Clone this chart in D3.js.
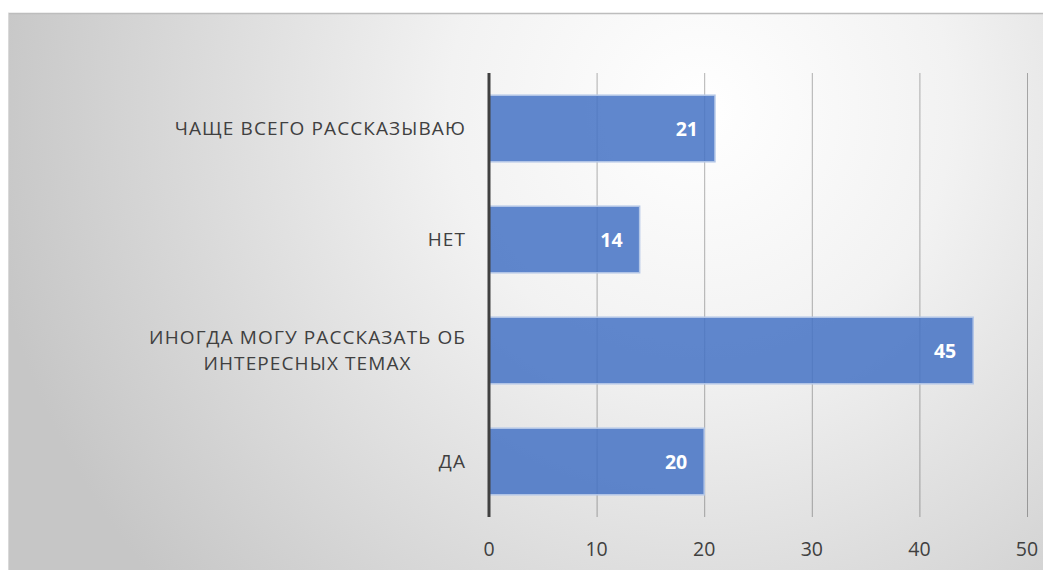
<!DOCTYPE html>
<html>
<head>
<meta charset="utf-8">
<script src="https://cdn.jsdelivr.net/npm/d3@7"></script>
<style>
  body { margin: 0; background: #fff; }
  svg text { font-family: "Open Sans", "Noto Sans", sans-serif; }
</style>
</head>
<body>
<svg id="chart" width="1043" height="570"></svg>
<script>
// categories from top to bottom, as in the picture
const categories = [
  ['ЧАЩЕ ВСЕГО РАССКАЗЫВАЮ'],
  ['НЕТ'],
  ['ИНОГДА МОГУ РАССКАЗАТЬ ОБ', 'ИНТЕРЕСНЫХ ТЕМАХ'],
  ['ДА']
]
const values = [21, 14, 45, 20]
const xTicks = [0, 10, 20, 30, 40, 50]

const svg = d3.select('#chart')

// background with soft radial gradient
const defs = svg.append('defs')
const grad = defs.append('radialGradient')
  .attr('id', 'bg')
  .attr('gradientUnits', 'userSpaceOnUse')
  .attr('cx', 700).attr('cy', 110).attr('r', 720)
grad.append('stop').attr('offset', '0%').attr('stop-color', '#ffffff')
grad.append('stop').attr('offset', '35%').attr('stop-color', '#f2f2f2')
grad.append('stop').attr('offset', '100%').attr('stop-color', '#c6c6c6')

svg.append('rect')
  .attr('x', 8).attr('y', 13)
  .attr('width', 1043).attr('height', 570)
  .attr('fill', 'url(#bg)')
svg.append('line')
  .attr('x1', 8).attr('x2', 1043).attr('y1', 13.5).attr('y2', 13.5)
  .attr('stroke', '#bdbdbd').attr('stroke-width', 1.5)
svg.append('line')
  .attr('x1', 8.5).attr('x2', 8.5).attr('y1', 13).attr('y2', 570)
  .attr('stroke', '#d9d9d9').attr('stroke-width', 1)

const x = d3.scaleLinear().domain([0, 50]).range([489, 1027])
const y = d3.scaleBand()
  .domain(d3.range(categories.length))
  .range([73, 517])
  .paddingInner(0.4)
  .paddingOuter(0.2)

// vertical gridlines
svg.append('g')
  .selectAll('line')
  .data(xTicks.slice(1))
  .join('line')
  .attr('x1', d => x(d) + 0.5)
  .attr('x2', d => x(d) + 0.5)
  .attr('y1', 73)
  .attr('y2', 517)
  .attr('stroke', 'rgba(0,0,0,0.3)')
  .attr('stroke-width', 1)

// bars
svg.append('g')
  .selectAll('rect')
  .data(values)
  .join('rect')
  .attr('x', x(0))
  .attr('y', (d, i) => y(i))
  .attr('width', d => x(d) - x(0))
  .attr('height', y.bandwidth())
  .attr('fill', '#4472c4')
  .attr('fill-opacity', 0.85)
  .attr('stroke', '#b4c7e7')
  .attr('stroke-width', 1.5)

// value labels
svg.append('g')
  .selectAll('text')
  .data(values)
  .join('text')
  .attr('x', d => x(d) - 17)
  .attr('y', (d, i) => y(i) + y.bandwidth() / 2)
  .attr('dy', '0.36em')
  .attr('text-anchor', 'end')
  .attr('fill', '#ffffff')
  .attr('font-size', 19.5)
  .attr('font-weight', 'bold')
  .text(d => d)

// category axis line
svg.append('line')
  .attr('x1', x(0)).attr('x2', x(0))
  .attr('y1', 73).attr('y2', 517)
  .attr('stroke', '#404040')
  .attr('stroke-width', 3)

// category labels: block right-aligned, lines centred within it
const cat = svg.append('g')
  .selectAll('text')
  .data(categories)
  .join('text')
  .attr('text-anchor', 'middle')
  .attr('fill', '#404040')
  .attr('font-size', 19)
  .attr('letter-spacing', 1.1)
cat.each(function (lines, i) {
  const cy = y(i) + y.bandwidth() / 2
  const lh = 26
  const t = d3.select(this)
  const spans = lines.map((s, k) => t.append('tspan')
    .attr('y', cy + (k - (lines.length - 1) / 2) * lh)
    .attr('dy', '0.36em')
    .text(s))
  const w = d3.max(spans, sp => sp.node().getComputedTextLength())
  spans.forEach(sp => sp.attr('x', 466 - w / 2))
})

// x tick labels
svg.append('g')
  .selectAll('text')
  .data(xTicks)
  .join('text')
  .attr('x', d => x(d))
  .attr('y', 549)
  .attr('dy', '0.36em')
  .attr('text-anchor', 'middle')
  .attr('fill', '#404040')
  .attr('font-size', 19.5)
  .text(d => d)
</script>
</body>
</html>
